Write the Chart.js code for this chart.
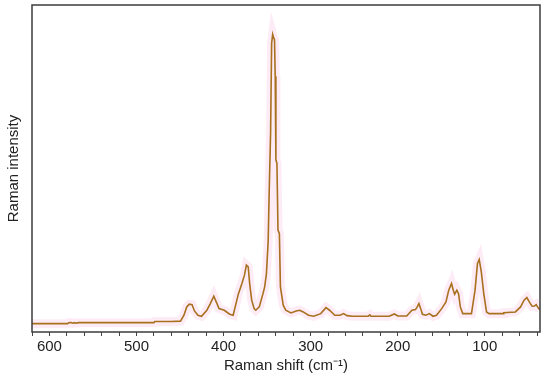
<!DOCTYPE html>
<html>
<head>
<meta charset="utf-8">
<script src="https://cdn.jsdelivr.net/npm/chart.js@4/dist/chart.umd.min.js"></script>
<style>
  html, body { margin: 0; padding: 0; background: #fff; }
  #wrap { width: 550px; height: 380px; }
</style>
</head>
<body>
<div id="wrap"><canvas id="ramanChart"></canvas></div>
<script>
// Raman shift (cm-1) and intensity (arbitrary units)
const shift = [
  620, 590, 579, 578, 575, 573, 571, 569, 567, 540, 480, 479, 460, 449.5, 445.5, 442.3,
  439.4, 436.2, 433.4, 429.4, 425.3, 419.2, 415.2, 411.2, 408.4, 405.2, 399.2, 393, 389,
  383, 379, 376, 373.8, 371.7, 370, 367.7, 364.9, 363, 359, 354.8, 352.8, 350.8, 348.8,
  347.6, 346, 344.8, 343.6, 342.4, 341.5, 340.7, 339.9, 338.7, 337.5, 335.9, 334.7, 331.5,
  328.6, 322.6, 316.6, 312.6, 308.5, 302.5, 296.4, 288.4, 282.4, 278.3, 272.3, 266.2, 262.2,
  258.2, 252.2, 234, 232, 230.8, 209.9, 203.9, 199.8, 189.7, 183.7, 179.6, 177.6, 175.6,
  173.6, 171.6, 167.6, 163.6, 159.5, 155.5, 149.5, 144.6, 141.4, 138.2, 136.2, 134.6, 132.1,
  130.1, 128.1, 125.3, 115.3, 111.2, 108.4, 106.4, 104, 101.2, 98, 95.1, 79, 78.2, 64.9,
  58.9, 54.9, 51.7, 48.9, 45.7, 42.9, 40.9, 38.9, 36.9
];
const intensity = [
  8.3, 8.3, 8.3, 9.3, 9.5, 8.8, 9.3, 8.8, 9.3, 9.3, 9.3, 10.4, 10.4, 10.8, 16.7, 25,
  27.7, 27.3, 21, 16.7, 15.7, 21.7, 28.3, 35.7, 30, 23.3, 21.7, 17.7, 16.7,
  38, 48, 56.7, 66.7, 65, 48, 31.7, 23.3, 21.7, 25, 38, 45, 58, 90,
  140, 198, 288, 296.7, 293, 291.6, 255, 171.7, 168, 101.6, 98, 45, 26.7,
  21.7, 19, 21, 21.7, 20, 16.7, 15.7, 18.3, 24.3, 21.7, 16.7, 16.7, 18.3,
  16.3, 15.7, 15.7, 17, 15.7, 15.7, 18, 16, 16, 21.7, 22.3, 25, 28.3,
  23.3, 17.7, 16.7, 18.3, 15.7, 16.7, 23.3, 30, 41.7, 48.3, 41.7, 37.7, 41.7,
  38, 25, 18.3, 18.3, 41.7, 68.3, 72.3, 60, 38.3, 20, 18.3, 18.3, 19.3, 20,
  25, 31.7, 34.3, 30, 25.7, 26, 27.3, 24.3, 22.3
];
const xTickStep = 20;
const xLabelStep = 100;

const points = shift.map((s, i) => ({ x: s, y: intensity[i] }));
const textColor = '#222';
const fontFamily = "'Liberation Sans', Arial, sans-serif";

// draw the closed frame round the plot area
const framePlugin = {
  id: 'frame',
  afterDatasetsDraw(chart) {
    const { ctx, chartArea: a } = chart;
    ctx.save();
    ctx.strokeStyle = '#3c3c3c';
    ctx.lineWidth = 1.5;
    ctx.strokeRect(a.left, a.top, a.right - a.left, a.bottom - a.top);
    ctx.restore();
  }
};

new Chart(document.getElementById('ramanChart').getContext('2d'), {
  type: 'line',
  data: {
    datasets: [
      {
        data: points,
        borderColor: '#a8701f',
        borderWidth: 1.6,
        pointRadius: 0,
        tension: 0,
        fill: false,
        order: 1
      },
      {
        // faint pink glow around the trace
        data: points,
        borderColor: 'rgba(250, 200, 225, 0.35)',
        borderWidth: 9,
        pointRadius: 0,
        tension: 0,
        fill: false,
        order: 2
      }
    ]
  },
  options: {
    responsive: true,
    maintainAspectRatio: false,
    animation: false,
    layout: { padding: { top: 5, right: 10, bottom: 0, left: 0 } },
    plugins: { legend: { display: false }, tooltip: { enabled: false } },
    scales: {
      x: {
        type: 'linear',
        reverse: true,
        min: 36.6,
        max: 620,
        afterFit(scale) { scale.height = 48; },
        border: { display: false },
        grid: { drawOnChartArea: false, drawTicks: true, tickLength: 4, color: '#444' },
        ticks: {
          stepSize: xTickStep,
          includeBounds: false,
          autoSkip: false,
          maxRotation: 0,
          padding: 2,
          color: textColor,
          font: { family: fontFamily, size: 15 },
          callback: (v) => (v % xLabelStep === 0 ? String(v) : '')
        },
        title: {
          display: true,
          text: 'Raman shift (cm⁻¹)',
          color: textColor,
          font: { family: fontFamily, size: 15 },
          padding: { top: 0, bottom: 5 }
        }
      },
      y: {
        min: 0,
        max: 326,
        afterFit(scale) { scale.width = 32; },
        border: { display: false },
        grid: { display: false },
        ticks: { display: false },
        title: {
          display: true,
          text: 'Raman intensity',
          color: textColor,
          font: { family: fontFamily, size: 15 },
          padding: { top: 5, bottom: 0 }
        }
      }
    }
  },
  plugins: [framePlugin]
});
</script>
</body>
</html>
